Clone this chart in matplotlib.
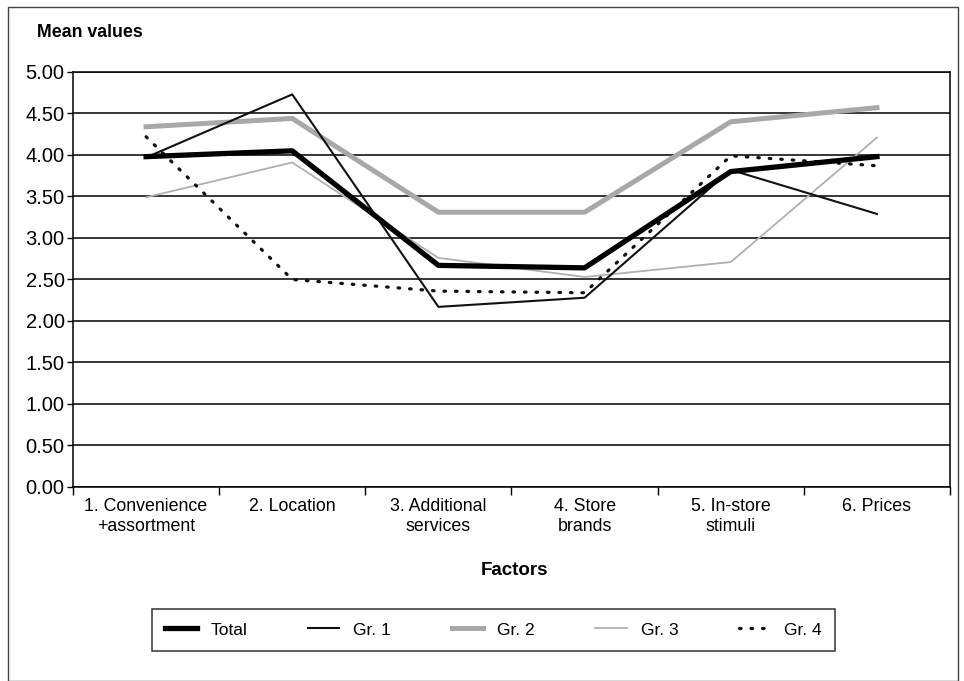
import numpy as np
import matplotlib
matplotlib.use("Agg")
import matplotlib.pyplot as plt
from matplotlib.patches import Rectangle

plt.rcParams['font.family'] = ['Liberation Sans', 'DejaVu Sans']

factors = ['1. Convenience\n+assortment', '2. Location', '3. Additional\nservices',
           '4. Store\nbrands', '5. In-store\nstimuli', '6. Prices']
total = [3.98, 4.05, 2.67, 2.64, 3.80, 3.98]
gr1 = [3.97, 4.73, 2.17, 2.28, 3.82, 3.29]
gr2 = [4.34, 4.44, 3.31, 3.31, 4.40, 4.57]
gr3 = [3.49, 3.91, 2.76, 2.53, 2.71, 4.21]
gr4 = [4.22, 2.50, 2.36, 2.34, 3.99, 3.87]
yticks = np.arange(0, 5.01, 0.5)

fig = plt.figure(figsize=(9.64, 6.81), dpi=100)
ax = fig.add_axes([0.0757, 0.2849, 0.9098, 0.6094])

x = np.arange(len(factors)) + 0.5
ax.plot(x, gr3, color='#b0b0b0', lw=1.3, label='Gr. 3', zorder=3)
ax.plot(x, gr2, color='#a8a8a8', lw=3.6, label='Gr. 2', zorder=3)
ax.plot(x, gr1, color='#111111', lw=1.5, label='Gr. 1', zorder=4)
ax.plot(x, gr4, color='#111111', lw=2.3, linestyle=(0, (0.5, 3.1)),
        dash_capstyle='round', label='Gr. 4', zorder=4)
ax.plot(x, total, color='black', lw=3.8, label='Total', zorder=5)

ax.set_xlim(0, 6)
ax.set_ylim(0, 5)
ax.set_yticks(yticks)
ax.set_yticklabels(['%.2f' % v for v in yticks], fontsize=14.5)
ax.yaxis.grid(True, color='black', lw=1.1)
ax.set_axisbelow(True)

ax.set_xticks(x)
ax.set_xticklabels(factors, fontsize=12.8)
ax.set_xticks(np.arange(0, 7), minor=True)
ax.tick_params(axis='x', which='major', length=0, pad=8)
ax.tick_params(axis='x', which='minor', length=6, width=1)
ax.tick_params(axis='y', length=4, width=1, pad=2)

for s in ax.spines.values():
    s.set_linewidth(1.1)
    s.set_color('black')

fig.text(0.038, 0.953, 'Mean values', fontsize=12.8, fontweight='bold', va='center')
fig.text(0.534, 0.162, 'Factors', fontsize=13.5, fontweight='bold', ha='center', va='center')

handles, labels = ax.get_legend_handles_labels()
order = [4, 2, 1, 0, 3]
leg = fig.legend([handles[i] for i in order], [labels[i] for i in order],
                 loc='center', bbox_to_anchor=(0.512, 0.075), ncol=5, fontsize=12.5,
                 frameon=True, fancybox=False, edgecolor='black', columnspacing=3.5,
                 handlelength=1.8, borderpad=0.75, borderaxespad=0)
leg.get_frame().set_linewidth(1.1)

fig.patches.append(Rectangle((0.008, 0.0), 0.986, 0.99, transform=fig.transFigure,
                             fill=False, edgecolor='#444444', lw=1))

fig.savefig('out.png', dpi=100)
